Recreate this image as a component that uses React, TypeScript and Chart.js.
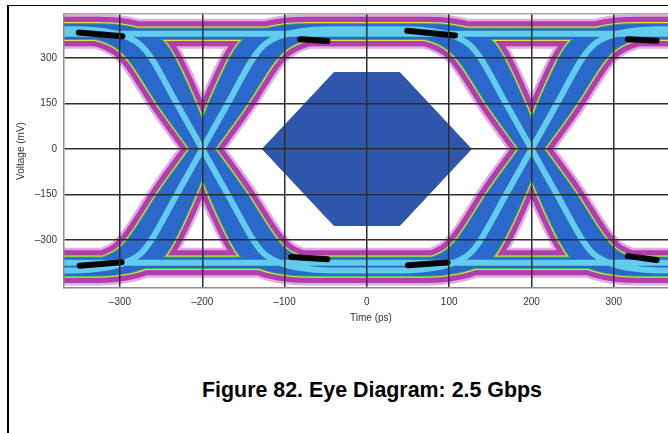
import React, { useEffect, useRef } from 'react';
import { Chart, registerables } from 'chart.js';

Chart.register(...registerables);

// ---- axes ----
const xMin = -368;
const xMax = 378;
const yMin = -458;
const yMax = 445;
const xTicks = [-300, -200, -100, 0, 100, 200, 300];
const xTickLabels = ['\u2013300', '\u2013200', '\u2013100', '0', '100', '200', '300'];
const yTicks = [300, 150, 0, -150, -300];
const yTickLabels = ['300', '150', '0', '\u2013150', '\u2013300'];

// ---- eye traces ----
// crossing times (ps) and timing jitter of the trace copies (ps)
const crossingPs = [-200, 200];
const jitterPs = [-7, 7];
// edge centre-lines, time offset from crossing (ps): fast, slow and mean edges
const fastEdgeDt = [-200, -135, -100, -75, -58, -48, -22, 0, 22, 48, 58, 75, 100, 135, 200];
const slowEdgeDt = [-200, -172, -138, -110, -90, -76, -40, 0, 40, 76, 90, 110, 138, 172, 200];
const meanEdgeDt = [-200, -154, -119, -92, -74, -62, -31, 0, 31, 62, 74, 92, 119, 154, 200];
const risingMv = [-400, -400, -392, -372, -342, -300, -150, 0, 150, 300, 340, 370, 388, 395, 395];
const fallingMv = [395, 395, 388, 370, 340, 300, 150, 0, -150, -300, -342, -372, -392, -400, -400];
// steady levels with no transition
const flatPs = [-410, 410];
const highFlatMv = [380, 380];
const lowFlatMv = [-375, -375];

// ---- eye mask (hexagon) ----
const maskPs = [-127, -40, 40, 127];
const maskTopMv = [0, 252, 252, 0];
const maskBottomMv = [0, -252, -252, 0];

// ---- dense (black) spots on the rails ----
const blobStartPs = [-350, -81, 49, 317, -349, -92, 50, 317];
const blobStartMv = [384, 362, 390, 362, -385, -356, -383, -353];
const blobEndPs = [-297, -48, 107, 352, -298, -48, 98, 352];
const blobEndMv = [372, 356, 374, 357, -373, -363, -374, -366];

type P = { x: number; y: number | null };

function pushFlats(pts: P[]) {
  [highFlatMv, lowFlatMv].forEach((mvs) => {
    flatPs.forEach((t, i) => pts.push({ x: t, y: mvs[i] }));
    pts.push({ x: flatPs[flatPs.length - 1], y: null });
  });
}

function buildSpread(): P[] {
  const pts: P[] = [];
  const edges: [number[], number[]][] = [
    [fastEdgeDt, risingMv],
    [fastEdgeDt, fallingMv],
    [slowEdgeDt, risingMv],
    [slowEdgeDt, fallingMv],
  ];
  crossingPs.forEach((c) => {
    jitterPs.forEach((j) => {
      edges.forEach(([dts, mvs]) => {
        dts.forEach((dt, i) => pts.push({ x: c + j + dt, y: mvs[i] }));
        pts.push({ x: c + j + dts[dts.length - 1], y: null });
      });
    });
  });
  pushFlats(pts);
  return pts;
}

function buildCore(): P[] {
  const pts: P[] = [];
  crossingPs.forEach((c) => {
    [risingMv, fallingMv].forEach((mvs) => {
      meanEdgeDt.forEach((dt, i) => pts.push({ x: c + dt, y: mvs[i] }));
      pts.push({ x: c + meanEdgeDt[meanEdgeDt.length - 1], y: null });
    });
  });
  pushFlats(pts);
  return pts;
}

function buildBlobs(): P[] {
  const pts: P[] = [];
  blobStartPs.forEach((s, i) => {
    pts.push({ x: s, y: blobStartMv[i] });
    pts.push({ x: blobEndPs[i], y: blobEndMv[i] });
    pts.push({ x: blobEndPs[i], y: null });
  });
  return pts;
}

const spreadLayers = [
  { color: 'rgba(200,100,200,0.55)', width: 30 },
  { color: 'rgb(176,62,174)', width: 25 },
  { color: 'rgb(236,226,62)', width: 14.5 },
  { color: 'rgb(46,186,80)', width: 12.5 },
  { color: 'rgb(42,104,204)', width: 10.5 },
];
const coreLayer = { color: 'rgb(98,204,236)', width: 6 };

export default function App() {
  const ref = useRef<HTMLCanvasElement | null>(null);

  useEffect(() => {
    if (!ref.current) return;
    Chart.defaults.font.family = '"Liberation Sans", Arial, sans-serif';
    const spread = buildSpread();
    const core = buildCore();
    const lineStyle = {
      pointRadius: 0,
      fill: false,
      cubicInterpolationMode: 'monotone',
      borderCapStyle: 'round',
      borderJoinStyle: 'round',
      spanGaps: false,
      clip: 0,
    };
    const datasets: any[] = spreadLayers.map((l, k) => ({
      ...lineStyle,
      data: spread,
      borderColor: l.color,
      borderWidth: l.width,
      order: 20 - k,
    }));
    datasets.push({
      ...lineStyle,
      data: core,
      borderColor: coreLayer.color,
      borderWidth: coreLayer.width,
      order: 10,
    });
    const maskColor = '#2e57ab';
    datasets.push({
      data: maskPs.map((t, i) => ({ x: t, y: maskTopMv[i] })),
      borderColor: maskColor,
      backgroundColor: maskColor,
      borderWidth: 1,
      pointRadius: 0,
      fill: '+1',
      clip: 0,
      order: 3,
    });
    datasets.push({
      data: maskPs.map((t, i) => ({ x: t, y: maskBottomMv[i] })),
      borderColor: maskColor,
      borderWidth: 1,
      pointRadius: 0,
      fill: false,
      clip: 0,
      order: 3,
    });
    datasets.push({
      ...lineStyle,
      cubicInterpolationMode: 'default',
      data: buildBlobs(),
      borderColor: '#050505',
      borderWidth: 6,
      order: 1,
    });

    const chart = new Chart(ref.current, {
      type: 'line',
      data: { datasets },
      options: {
        responsive: false,
        animation: false,
        devicePixelRatio: 1,
        events: [],
        layout: { padding: { left: 8, top: 14, right: 2, bottom: 0 } },
        plugins: { legend: { display: false }, tooltip: { enabled: false } },
        scales: {
          x: {
            type: 'linear',
            min: xMin,
            max: xMax,
            afterBuildTicks: (s: any) => {
              s.ticks = xTicks.map((v) => ({ value: v }));
            },
            afterFit: (s: any) => {
              s.height = 38;
            },
            ticks: {
              autoSkip: false,
              maxRotation: 0,
              padding: 8,
              color: '#333',
              font: { size: 10 },
              callback: (v: any) => {
                const i = xTicks.indexOf(Number(v));
                return i >= 0 ? xTickLabels[i] : '';
              },
            },
            grid: { color: '#2e2e2e', lineWidth: 1.5, drawTicks: false, z: 1 },
            border: { display: true, color: '#8c8c8c', width: 1.5, z: 1 },
            title: {
              display: true,
              text: 'Time (ps)',
              color: '#333',
              font: { size: 10 },
              padding: { top: 0, bottom: 2 },
            },
          },
          y: {
            type: 'linear',
            min: yMin,
            max: yMax,
            afterBuildTicks: (s: any) => {
              s.ticks = [yMin, ...yTicks.slice().reverse(), yMax].map((v) => ({ value: v }));
            },
            afterFit: (s: any) => {
              s.width = 56;
            },
            ticks: {
              autoSkip: false,
              padding: 7,
              color: '#333',
              font: { size: 10 },
              callback: (v: any) => {
                const i = yTicks.indexOf(Number(v));
                return i >= 0 ? yTickLabels[i] : '';
              },
            },
            grid: {
              color: (ctx: any) => {
                const v = ctx.tick ? ctx.tick.value : 0;
                if (v === yMax) return '#a8a8a8';
                if (v === yMin) return 'rgba(0,0,0,0)';
                return '#2e2e2e';
              },
              lineWidth: 1.5,
              drawTicks: false,
              z: 1,
            },
            border: { display: true, color: '#8c8c8c', width: 1.5, z: 1 },
            title: {
              display: true,
              text: 'Voltage (mV)',
              color: '#333',
              font: { size: 10 },
              padding: { top: 7, bottom: 0 },
            },
          },
        },
      } as any,
    });
    return () => chart.destroy();
  }, []);

  return (
    <div
      style={{
        position: 'absolute',
        left: 0,
        top: 0,
        width: 668,
        height: 433,
        overflow: 'hidden',
        background: '#fff',
      }}
    >
      <div
        style={{
          position: 'absolute',
          left: 7,
          top: 5,
          width: 680,
          height: 440,
          borderLeft: '2px solid #000',
          borderTop: '1px solid #000',
        }}
      />
      <canvas
        ref={ref}
        width={680}
        height={326}
        style={{ position: 'absolute', left: 0, top: 0, width: 680, height: 326 }}
      />
      <div
        style={{
          position: 'absolute',
          left: 202,
          top: 380,
          whiteSpace: 'nowrap',
          font: 'bold 21.4px "Liberation Sans", Arial, sans-serif',
          lineHeight: 1,
          color: '#000',
        }}
      >
        Figure 82. Eye Diagram: 2.5 Gbps
      </div>
    </div>
  );
}
